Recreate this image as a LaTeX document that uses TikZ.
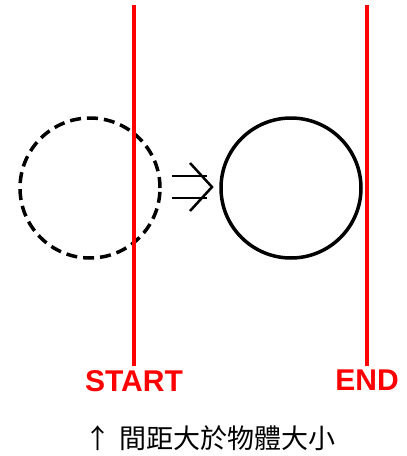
\documentclass[tikz,border=0pt]{standalone}
\usepackage{fontspec}
\setmainfont{Liberation Sans}
\newfontfamily\cjkfont{Noto Sans CJK TC}

\begin{document}
\begin{tikzpicture}
[
	x=1pt, y=-1pt,
	redline/.style={red, line width=4pt},
	marklabel/.style={red, font=\fontsize{30}{30}\selectfont\bfseries, inner sep=0pt},
	ring/.style={circle, draw, line width=3.5pt, minimum size=140pt, inner sep=0pt},
	gapring/.style={ring, dash pattern=on 11pt off 6pt},
]

	\useasboundingbox (0,0) rectangle (407,456);

	% objects before and after
	\node[gapring] at (90,188) (before) {};
	\node[ring] at (291,188) (after) {};

	% start and end marks
	\node[marklabel, anchor=north] at (134,370) (start) {START};
	\node[marklabel, anchor=north] at (367,370) (end) {END};
	\coordinate (starttop) at (134,5);
	\coordinate (endtop) at (367,5);
	\draw[redline] (starttop) -- ([yshift=4pt]start.north);
	\draw[redline] (endtop) -- ([yshift=4pt]end.north);

	% double arrow
	\coordinate (tip) at (212,187);
	\draw[line width=2.5pt] (172,176) -- (207,176);
	\draw[line width=2.5pt] (172,198) -- (207,198);
	\draw[line width=2.5pt] (190,163) -- (tip) -- (190,211);

	% caption
	\node[anchor=west, inner sep=0pt, font=\cjkfont\fontsize{27}{27}\selectfont] at (84,438) (caption) {↑\hspace{0.3em}間距大於物體大小};

\end{tikzpicture}
\end{document}
